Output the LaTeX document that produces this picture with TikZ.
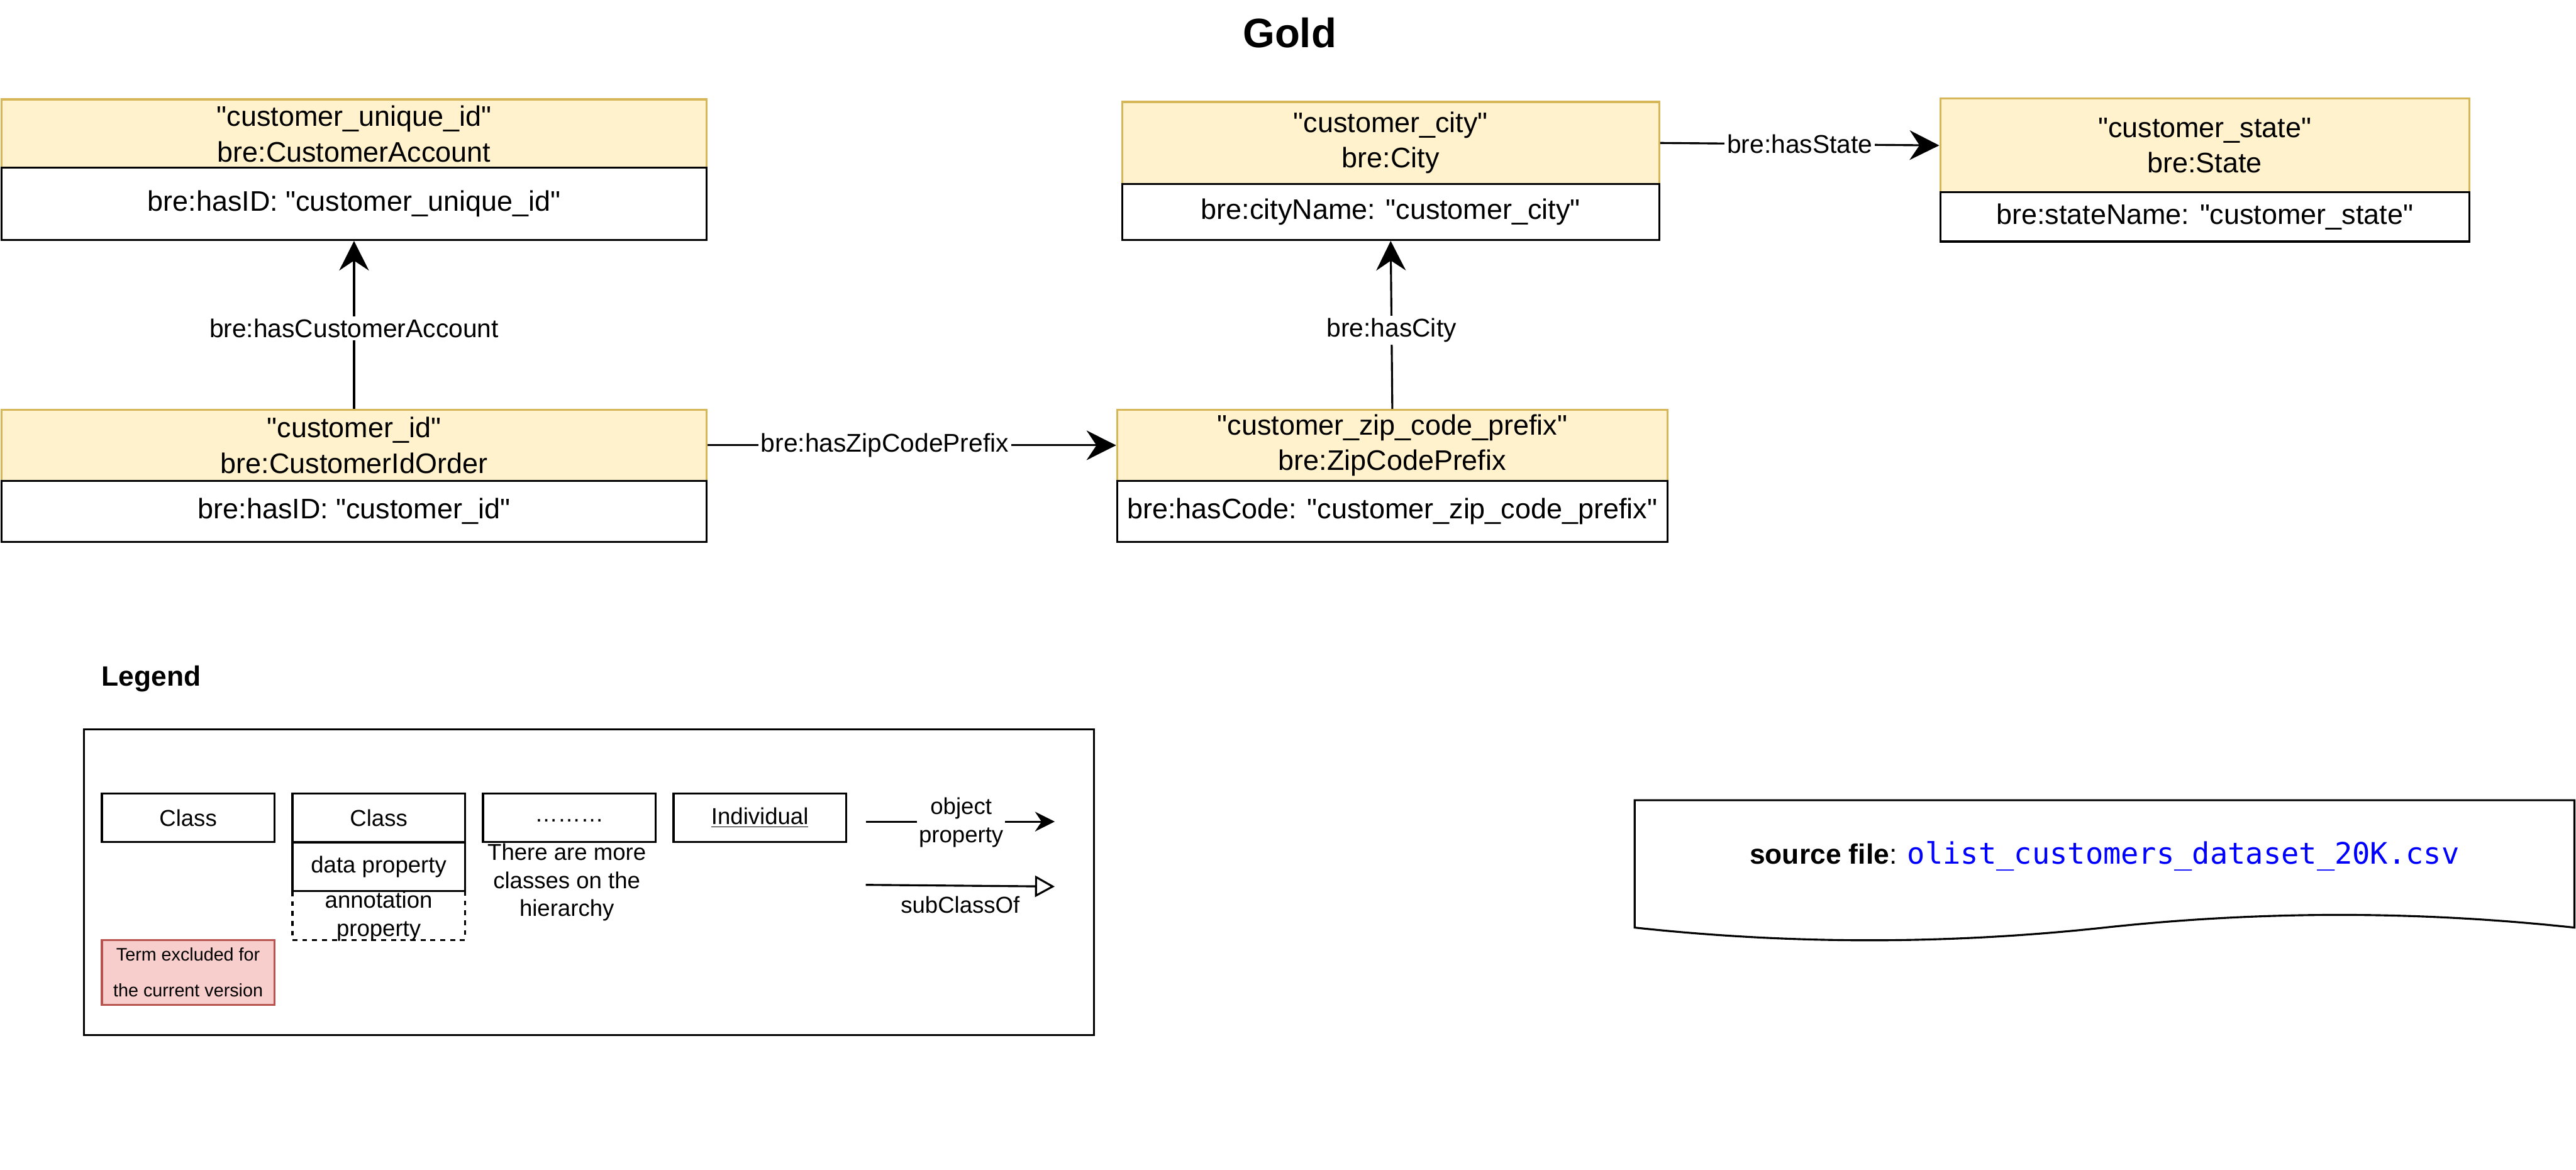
\documentclass[tikz,border=0pt]{standalone}
\usepackage{fontspec}
\setmainfont{Liberation Sans}[Ligatures=TeXOff]
\newfontfamily\monof{DejaVu Sans Mono}
\usetikzlibrary{arrows.meta}
\definecolor{hdrfill}{HTML}{FFF2CC}
\definecolor{hdrdraw}{HTML}{D6B656}
\definecolor{exfill}{HTML}{F8CECC}
\definecolor{exdraw}{HTML}{B85450}
\definecolor{fileblue}{HTML}{0000FF}
\begin{document}
\begin{tikzpicture}[x=1pt,y=-1pt,
  hdr/.style={draw=hdrdraw, fill=hdrfill, line width=1.2pt, inner sep=0pt, align=center, font=\fontsize{17.2}{21.5}\selectfont},
  bodybox/.style={draw=black, fill=white, line width=1.2pt, inner sep=0pt, align=center, font=\fontsize{17.2}{21.5}\selectfont},
  conn/.style={line width=1.2pt, -{Stealth[length=18pt,width=18pt,inset=6pt]}},
  lbl/.style={fill=white, inner sep=1.5pt, font=\fontsize{15.6}{18}\selectfont},
  lgbox/.style={draw=black, line width=1.2pt, inner sep=0pt, minimum width=105pt, font=\fontsize{14}{17}\selectfont},
  lgtext/.style={inner sep=0pt, align=center, font=\fontsize{14}{17}\selectfont},
]
\useasboundingbox (0,0) rectangle (1568,712);

% title
\node[font=\fontsize{25}{30}\selectfont\bfseries] (title) at (785,20) {Gold};

% CustomerAccount
\node[hdr, minimum width=429pt, minimum height=42pt] (caH) at (215.5,81.5) {"customer\_unique\_id"\\bre:CustomerAccount};
\node[bodybox, minimum width=429pt, minimum height=44pt] (caB) at (215.5,124) {bre:hasID: "customer\_unique\_id"};

% CustomerIdOrder
\node[hdr, minimum width=429pt, minimum height=43pt] (ciH) at (215.5,271) {"customer\_id"\\bre:CustomerIdOrder};
\node[bodybox, minimum width=429pt, minimum height=37.3pt] (ciB) at (215.5,311.2) {bre:hasID: "customer\_id"};

% City
\node[hdr, minimum width=327pt, minimum height=50pt] (ctH) at (846.5,87) {"customer\_city"\\bre:City};
\node[bodybox, minimum width=327pt, minimum height=34pt] (ctB) at (846.5,129) {bre:cityName: "customer\_city"};

% ZipCodePrefix
\node[hdr, minimum width=335pt, minimum height=43pt] (zpH) at (847.5,271) {"customer\_zip\_code\_prefix"\\bre:ZipCodePrefix};
\node[bodybox, minimum width=335pt, minimum height=37.3pt] (zpB) at (847.5,311.2) {bre:hasCode: "customer\_zip\_code\_prefix"};

% State
\node[hdr, minimum width=322pt, minimum height=57pt] (stH) at (1342,88.5) {"customer\_state"\\bre:State};
\node[bodybox, minimum width=322pt, minimum height=30pt] (stB) at (1342,132) {bre:stateName: "customer\_state"};

% connectors
\draw[conn] (ciH.north) -- (caB.south) node[lbl, pos=0.48] {bre:hasCustomerAccount};
\draw[conn] (ciH.east) -- (zpH.west) node[lbl, pos=0.434] {bre:hasZipCodePrefix};
\draw[conn] (zpH.north) -- (ctB.south) node[lbl, pos=0.47] {bre:hasCity};
\draw[conn] (ctH.east) -- (stH.west) node[lbl, midway] {bre:hasState};

% legend
\node[font=\fontsize{17}{20}\selectfont\bfseries] (legT) at (92,413) {Legend};
\node[draw=black, line width=1.2pt, minimum width=615pt, minimum height=186pt, inner sep=0pt] (legF) at (358.5,537) {};

\node[lgbox, minimum height=29.5pt] (lc1) at (114.5,497.8) {Class};
\node[lgbox, minimum height=29.5pt] (lc2) at (230.5,497.8) {Class};
\node[lgbox, minimum height=29.5pt] (ldp) at (230.5,527.5) {data property};
\node[lgbox, minimum height=29.8pt, dash pattern=on 3pt off 3pt] (lap) at (230.5,557.1) {};
\node[lgtext] (lapT) at (230.5,557.5) {annotation\\property};
\node[lgbox, minimum height=29.5pt] (ldots) at (346.5,497.8) {};
\node[lgtext] (ldotsT) at (346.5,499.5) {………};
\node[lgtext] (lmore) at (345,537) {There are more\\classes on the\\hierarchy};
\node[lgbox, minimum height=29.5pt] (lind) at (462.5,497.8) {\underline{Individual}};

\coordinate (op1) at (527,500);
\coordinate (op2) at (642,500);
\draw[line width=1.2pt, -{Stealth[length=12pt,width=12pt,inset=4pt]}] (op1) -- (op2);
\node[lgtext, fill=white, inner sep=1pt] (opT) at (585,500.5) {object\\property};

\coordinate (sc1) at (527,538.5);
\coordinate (sc2) at (642,539.5);
\draw[line width=1.2pt, -{Triangle[open, length=12pt, width=13pt]}] (sc1) -- (sc2);
\node[lgtext] (scT) at (584.5,550.5) {subClassOf};

\node[draw=exdraw, fill=exfill, line width=1.2pt, minimum width=105pt, minimum height=39.6pt, inner sep=0pt, align=center, font=\fontsize{11}{22}\selectfont] (lex) at (114.5,591.8) {Term excluded for\\the current version};

% source file document shape
\draw[line width=1.2pt, fill=white] (995,487) -- (1567,487) -- (1567,564.5)
  .. controls (1471.7,554.2) and (1376.3,554.2) .. (1281,564.5)
  .. controls (1185.7,574.8) and (1090.3,574.8) .. (995,564.5) -- cycle;
\node[inner sep=0pt, font=\fontsize{17}{20}\selectfont] (src) at (1281,521) {\textbf{source file}: {\monof\fontsize{18}{20}\selectfont\color{fileblue}olist\_customers\_dataset\_20K.csv}};
\end{tikzpicture}
\end{document}
